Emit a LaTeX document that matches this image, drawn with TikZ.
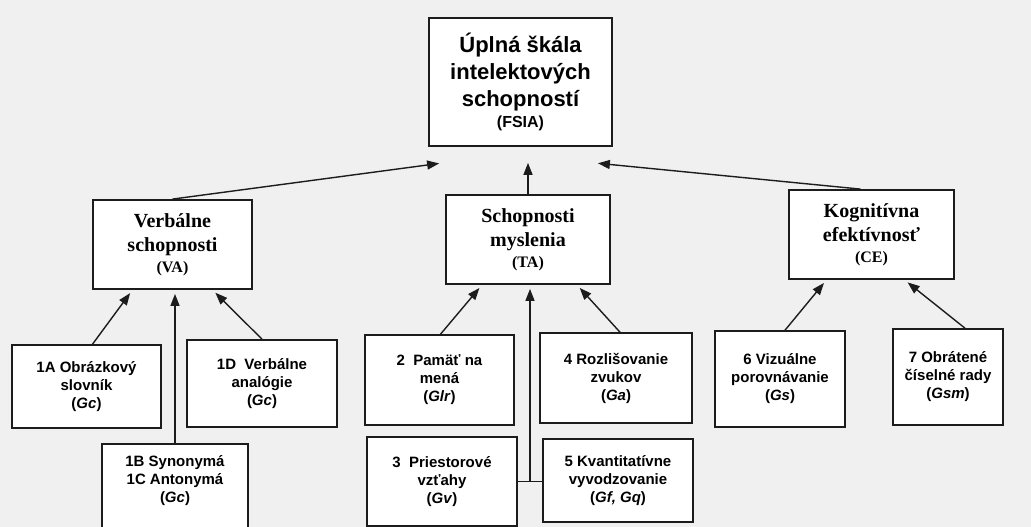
\documentclass[tikz,border=0pt]{standalone}
\usepackage{fontspec}
\setmainfont{Liberation Serif}
\setsansfont{Liberation Sans}
\usepackage{tikz}
\usetikzlibrary{
  positioning,
  arrows.meta,
  calc
}
\definecolor{inkcolor}{RGB}{28,28,28}
\definecolor{pagebg}{RGB}{240,240,240}
\newcommand{\boxtag}[1]{{\fontsize{16}{19}\selectfont #1}}
\tikzset{
  topbox/.style={
    draw=inkcolor, fill=white, line width=1.8pt,
    font=\sffamily\bfseries\fontsize{22}{27}\selectfont, align=center
  },
  groupbox/.style={
    draw=inkcolor, fill=white, line width=1.8pt,
    font=\bfseries\fontsize{20}{24}\selectfont, align=center
  },
  testbox/.style={
    draw=inkcolor, fill=white, line width=1.6pt,
    font=\sffamily\bfseries\fontsize{15}{18}\selectfont, align=center
  },
  uparrow/.style={
    -{Triangle[length=12pt,width=9pt]}, line width=1.4pt, draw=inkcolor,
    shorten >=4pt
  },
  joinline/.style={
    line width=1.4pt, draw=inkcolor
  }
}

\begin{document}
\begin{tikzpicture}[x=1pt, y=-1pt]

    \fill[pagebg] (0,0) rectangle (1031,527);
    \useasboundingbox (0,0) rectangle (1031,527);

    % Top: full scale
    \node[topbox, minimum width=183pt, minimum height=128pt] (fsia) at (520.5,82) {
      Úplná škála\\
      intelektových\\
      schopností\\[-6pt]
      \boxtag{(FSIA)}
    };

    % Middle row: three groups
    \node[groupbox, minimum width=159pt, minimum height=89pt] (va) at (172.5,244.5) {
      Verbálne\\
      schopnosti\\[-3pt]
      \boxtag{(VA)}
    };
    \node[groupbox, minimum width=164pt, minimum height=89pt] (ta) at (528,239.5) {
      Schopnosti\\
      myslenia\\[-3pt]
      \boxtag{(TA)}
    };
    \node[groupbox, minimum width=165pt, minimum height=89pt] (ce) at (871.5,234.5) {
      Kognitívna\\
      efektívnosť\\[-3pt]
      \boxtag{(CE)}
    };

    % Bottom rows: tests
    \node[testbox, minimum width=149pt, minimum height=83pt] (t1a) at (86.5,386.5) {
      1A Obrázkový\\
      slovník\\
      (\textit{Gc})
    };
    \node[testbox, minimum width=150pt, minimum height=87pt] (t1d) at (262,383.5) {
      1D~~Verbálne\\
      analógie\\
      (\textit{Gc})
    };
    \node[testbox, minimum width=146pt, anchor=north, inner ysep=12pt, text depth=32pt] (t1bc) at (175,443) {
      1B Synonymá\\
      1C Antonymá\\
      (\textit{Gc})
    };
    \node[testbox, minimum width=149pt, minimum height=90pt] (t2) at (439.5,380) {
      2~~Pamäť na\\
      mená\\
      (\textit{Glr})
    };
    \node[testbox, minimum width=150pt, minimum height=89pt] (t3) at (442,481.5) {
      3~~Priestorové\\
      vzťahy\\
      (\textit{Gv})
    };
    \node[testbox, minimum width=152pt, minimum height=90pt] (t4) at (616,378) {
      4 Rozlišovanie\\
      zvukov\\
      (\textit{Ga})
    };
    \node[testbox, minimum width=150pt, minimum height=83pt] (t5) at (618,480.5) {
      5 Kvantitatívne\\
      vyvodzovanie\\
      (\textit{Gf, Gq})
    };
    \node[testbox, minimum width=130pt, minimum height=96pt] (t6) at (780,379) {
      6 Vizuálne\\
      porovnávanie\\
      (\textit{Gs})
    };
    \node[testbox, minimum width=110pt, minimum height=96pt] (t7) at (948,377) {
      7 Obrátené\\
      číselné rady\\
      (\textit{Gsm})
    };

    % Arrow ends under the top box
    \coordinate (fsiain1) at ($(fsia.south west)+(15,16)$);
    \coordinate (fsiain2) at ($(fsia.south)+(5,12)$);
    \coordinate (fsiain3) at ($(fsia.south east)+(-19,16)$);

    % Groups -> full scale
    \draw[uparrow] (va.north) -- (fsiain1);
    \draw[uparrow] (ta.north) -- (ta.north |- fsiain2);
    \draw[uparrow] ($(ce.north)+(-11,0)$) -- (fsiain3);

    % Tests -> VA
    \draw[uparrow] ($(t1a.north)+(6,0)$) -- ($(va.south)+(-40,0)$);
    \draw[uparrow] (t1bc.north) -- (t1bc.north |- va.south);
    \draw[uparrow] (t1d.north) -- ($(va.south)+(40,0)$);

    % Tests -> TA
    \coordinate (join35) at ($(t3.east)!0.5!(t3.east -| t5.west)$);
    \draw[joinline] (t3.east) -- (t3.east -| t5.west);
    \draw[uparrow] ($(t2.north)+(1,0)$) -- ($(ta.south)+(-46,0)$);
    \draw[uparrow] (join35) -- (join35 |- ta.south);
    \draw[uparrow] ($(t4.north)+(4,0)$) -- ($(ta.south)+(49,0)$);

    % Tests -> CE
    \draw[uparrow] ($(t6.north)+(5,0)$) -- ($(ce.south)+(-45,0)$);
    \draw[uparrow] ($(t7.north)+(17,0)$) -- ($(ce.south)+(33,0)$);

  \end{tikzpicture}
\end{document}
